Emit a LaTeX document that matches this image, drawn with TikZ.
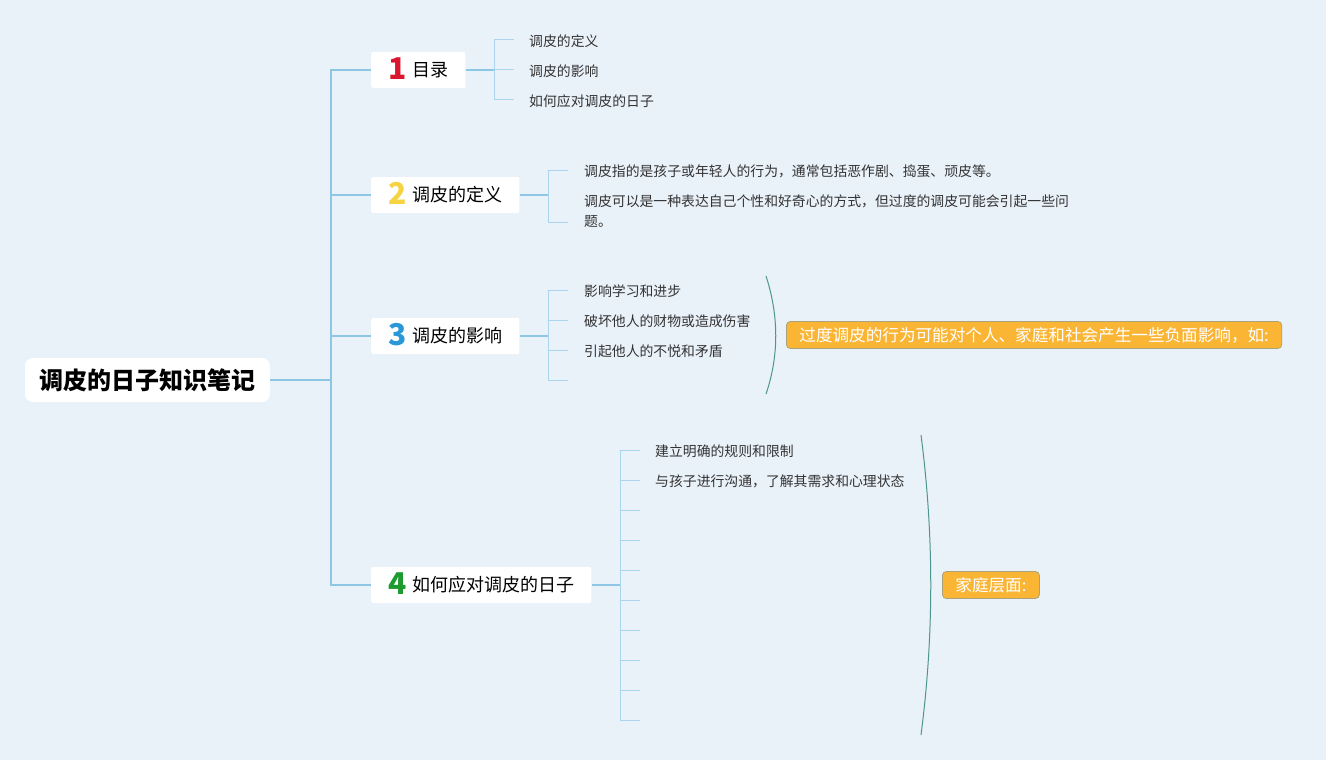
\documentclass[tikz,border=0pt]{standalone}
\usepackage{fontspec}
\setmainfont{Noto Sans CJK SC}
\usetikzlibrary{positioning}
\definecolor{bgblue}{HTML}{E9F1F9}
\definecolor{lnblue}{HTML}{8EC7E6}
\definecolor{tkblue}{HTML}{A9D5EE}
\definecolor{leaftext}{HTML}{333333}
\definecolor{sumorange}{HTML}{FBB535}
\definecolor{sumedge}{HTML}{A9A27A}
\definecolor{bracecol}{HTML}{4F958F}
\definecolor{nred}{HTML}{D9172F}
\definecolor{nyellow}{HTML}{F6D340}
\definecolor{nblue}{HTML}{2A98D8}
\definecolor{ngreen}{HTML}{1E9A2E}
\newcommand{\numtag}[2]{\smash{\raisebox{-3pt}{\textcolor{#1}{\fontsize{30}{30}\selectfont\bfseries #2}}}\hspace{6pt}}

\begin{document}
\begin{tikzpicture}[x=1pt,y=-1pt,
  conn/.style={draw=lnblue,line width=1.2pt},
  tick/.style={draw=tkblue,line width=1pt},
  topic/.style={fill=white,rounded corners=2pt,minimum height=36pt,inner xsep=17pt,inner ysep=0pt,anchor=west,font=\fontsize{18}{20}\selectfont},
  leaf/.style={anchor=west,inner sep=0pt,align=left,text=leaftext,font=\fontsize{13.85}{20}\selectfont},
  summ/.style={fill=sumorange,draw=sumedge,line width=0.8pt,rounded corners=4pt,text=white,anchor=west,minimum height=27pt,inner xsep=13pt,font=\fontsize{16.6}{18}\selectfont},
  curl/.style={draw=bracecol,line width=1pt}]
\fill[bgblue] (0,0) rectangle (1326,760);
\node[fill=white,rounded corners=8pt,minimum width=245pt,minimum height=44pt,font=\fontsize{24}{26}\selectfont\bfseries] (root) at (147.5,380) {调皮的日子知识笔记};
\node[topic] (t1) at (371,70) {\numtag{nred}{1}目录};
\node[topic] (t2) at (371,195) {\numtag{nyellow}{2}调皮的定义};
\node[topic] (t3) at (371,336) {\numtag{nblue}{3}调皮的影响};
\node[topic] (t4) at (371,585) {\numtag{ngreen}{4}如何应对调皮的日子};
\coordinate (trunk) at (331,380);
\draw[conn] (root.east) -- (trunk);
\foreach \t in {t1,t2,t3,t4} \draw[conn] (trunk) |- (\t.west);

\coordinate (j1) at (494,70);
\draw[conn] (t1.east) -- (j1);
\node[leaf] (l11) at (529,41) {调皮的定义};
\node[leaf] (l12) at (529,71) {调皮的影响};
\node[leaf] (l13) at (529,101) {如何应对调皮的日子};
\foreach \l in {l11,l12,l13} \draw[tick] (j1) |- ([xshift=-15pt,yshift=1pt]\l.west);

\coordinate (j2) at (548,195);
\draw[conn] (t2.east) -- (j2);
\node[leaf] (l21) at (584,171) {调皮指的是孩子或年轻人的行为，通常包括恶作剧、捣蛋、顽皮等。};
\node[leaf] (l22) at (584,211) {调皮可以是一种表达自己个性和好奇心的方式，但过度的调皮可能会引起一些问\\题。};
\draw[tick] (j2) |- ([xshift=-16pt,yshift=1pt]l21.west);
\draw[tick] (j2) |- ([xshift=-16pt,yshift=-11pt]l22.west);

\coordinate (j3) at (548,336);
\draw[conn] (t3.east) -- (j3);
\node[leaf] (l31) at (584,291) {影响学习和进步};
\node[leaf] (l32) at (584,321) {破坏他人的财物或造成伤害};
\node[leaf] (l33) at (584,351) {引起他人的不悦和矛盾};
\coordinate (l34) at (584,381);
\foreach \l in {l31,l32,l33,l34} \draw[tick] (j3) |- ([xshift=-16pt,yshift=1pt]\l.west);
\draw[curl] (766,276) .. controls (779,316) and (779,356) .. (766,394);
\node[summ] (s3) at (786,335) {过度调皮的行为可能对个人、家庭和社会产生一些负面影响，如:};

\coordinate (j4) at (620,585);
\draw[conn] (t4.east) -- (j4);
\node[leaf] (l41) at (655,451) {建立明确的规则和限制};
\node[leaf] (l42) at (655,481) {与孩子进行沟通，了解其需求和心理状态};
\foreach \i in {1,...,10} \coordinate (k4\i) at (640,{420+30*\i});
\foreach \i in {1,...,10} \draw[tick] (j4) |- (k4\i);
\draw[curl] (921,435) .. controls (934,535) and (934,635) .. (921,735);
\node[summ] (s4) at (942,585) {家庭层面:};
\end{tikzpicture}
\end{document}
